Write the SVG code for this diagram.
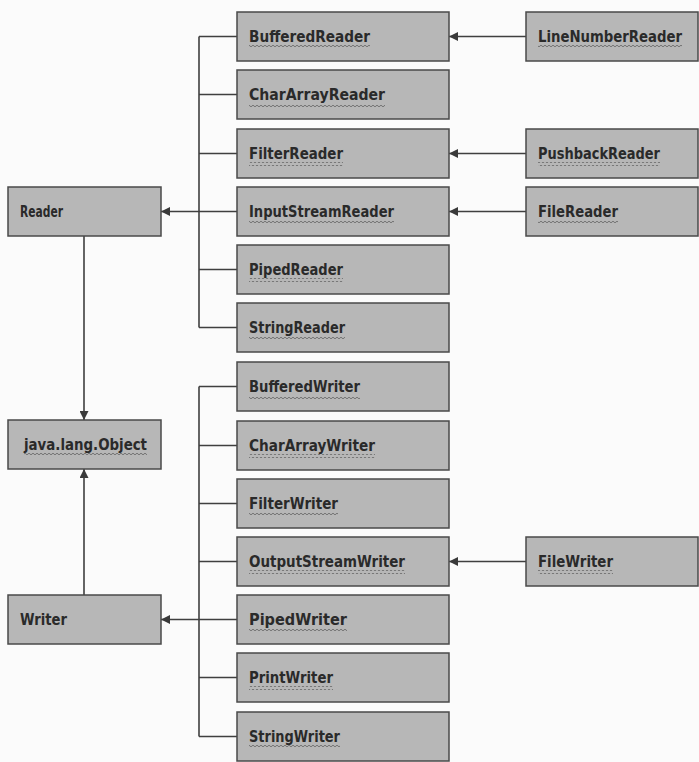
<svg xmlns="http://www.w3.org/2000/svg" width="699" height="762" viewBox="0 0 699 762">
<defs>
<style>
.box{fill:#b7b7b7;stroke:#4a4a4a;stroke-width:1.5}
.lbl{font-family:"DejaVu Sans Condensed","DejaVu Sans","Liberation Sans",sans-serif;font-size:15px;fill:#2a2a2a;font-weight:bold}
.wire{stroke:#3f3f3f;stroke-width:1.6;fill:none}
.sq{fill:url(#wave)}
</style>
<pattern id="wave" width="4" height="4" patternUnits="userSpaceOnUse">
<path d="M0,2 Q1,0.4 2,2 T4,2" fill="none" stroke="#6a6a6a" stroke-width="0.9"/>
</pattern>
<marker id="ah" viewBox="0 0 10 10" refX="10" refY="5" markerWidth="10" markerHeight="9" markerUnits="userSpaceOnUse" orient="auto">
<path d="M0,0 L10,5 L0,10 z" fill="#3a3a3a"/>
</marker>
</defs>
<rect width="699" height="762" fill="#fbfbfb"/>

<g id="connectors">
<path class="wire" d="M199,36.5 V327.5"/>
<path class="wire" d="M199,36.5 H237 M199,94.5 H237 M199,153.5 H237 M199,211.5 H237 M199,269.5 H237 M199,327.5 H237"/>
<path class="wire" d="M199,211.5 H161" marker-end="url(#ah)"/>
<path class="wire" d="M199,386.5 V736.5"/>
<path class="wire" d="M199,386.5 H237 M199,445.5 H237 M199,503.5 H237 M199,561.5 H237 M199,619.5 H237 M199,677.5 H237 M199,736.5 H237"/>
<path class="wire" d="M199,619.5 H161" marker-end="url(#ah)"/>
<path class="wire" d="M84,236 V420" marker-end="url(#ah)"/>
<path class="wire" d="M84,595 V469" marker-end="url(#ah)"/>
<path class="wire" d="M526,36.5 H449" marker-end="url(#ah)"/>
<path class="wire" d="M526,153.5 H449" marker-end="url(#ah)"/>
<path class="wire" d="M526,211.5 H449" marker-end="url(#ah)"/>
<path class="wire" d="M526,561.5 H449" marker-end="url(#ah)"/>
</g>

<g id="Reader"><rect class="box" x="8" y="187" width="153" height="49"/><text class="lbl" x="20" y="217" textLength="43" lengthAdjust="spacingAndGlyphs">Reader</text></g>
<g id="Object"><rect class="box" x="8" y="420" width="153" height="49"/><text class="lbl" x="24" y="450" textLength="123" lengthAdjust="spacingAndGlyphs">java.lang.Object</text><rect class="sq" x="24" y="453" width="123" height="4"/></g>
<g id="Writer"><rect class="box" x="8" y="595" width="153" height="49"/><text class="lbl" x="20" y="625" textLength="47" lengthAdjust="spacingAndGlyphs">Writer</text></g>

<g id="BufferedReader"><rect class="box" x="237" y="12" width="212" height="49"/><text class="lbl" x="249" y="42" textLength="121" lengthAdjust="spacingAndGlyphs">BufferedReader</text><rect class="sq" x="249" y="45" width="121" height="4"/></g>
<g id="CharArrayReader"><rect class="box" x="237" y="70" width="212" height="49"/><text class="lbl" x="249" y="100" textLength="136" lengthAdjust="spacingAndGlyphs">CharArrayReader</text><rect class="sq" x="249" y="103" width="136" height="4"/></g>
<g id="FilterReader"><rect class="box" x="237" y="129" width="212" height="49"/><text class="lbl" x="249" y="159" textLength="94" lengthAdjust="spacingAndGlyphs">FilterReader</text><rect class="sq" x="249" y="162" width="94" height="4"/></g>
<g id="InputStreamReader"><rect class="box" x="237" y="187" width="212" height="49"/><text class="lbl" x="249" y="217" textLength="145" lengthAdjust="spacingAndGlyphs">InputStreamReader</text><rect class="sq" x="249" y="220" width="145" height="4"/></g>
<g id="PipedReader"><rect class="box" x="237" y="245" width="212" height="49"/><text class="lbl" x="249" y="275" textLength="94" lengthAdjust="spacingAndGlyphs">PipedReader</text><rect class="sq" x="249" y="278" width="94" height="4"/></g>
<g id="StringReader"><rect class="box" x="237" y="303" width="212" height="49"/><text class="lbl" x="249" y="333" textLength="96" lengthAdjust="spacingAndGlyphs">StringReader</text><rect class="sq" x="249" y="336" width="96" height="4"/></g>
<g id="BufferedWriter"><rect class="box" x="237" y="362" width="212" height="49"/><text class="lbl" x="249" y="392" textLength="111" lengthAdjust="spacingAndGlyphs">BufferedWriter</text><rect class="sq" x="249" y="395" width="111" height="4"/></g>
<g id="CharArrayWriter"><rect class="box" x="237" y="421" width="212" height="49"/><text class="lbl" x="249" y="451" textLength="126" lengthAdjust="spacingAndGlyphs">CharArrayWriter</text><rect class="sq" x="249" y="454" width="126" height="4"/></g>
<g id="FilterWriter"><rect class="box" x="237" y="479" width="212" height="49"/><text class="lbl" x="249" y="509" textLength="89" lengthAdjust="spacingAndGlyphs">FilterWriter</text><rect class="sq" x="249" y="512" width="89" height="4"/></g>
<g id="OutputStreamWriter"><rect class="box" x="237" y="537" width="212" height="49"/><text class="lbl" x="249" y="567" textLength="156" lengthAdjust="spacingAndGlyphs">OutputStreamWriter</text><rect class="sq" x="249" y="570" width="156" height="4"/></g>
<g id="PipedWriter"><rect class="box" x="237" y="595" width="212" height="49"/><text class="lbl" x="249" y="625" textLength="98" lengthAdjust="spacingAndGlyphs">PipedWriter</text><rect class="sq" x="249" y="628" width="98" height="4"/></g>
<g id="PrintWriter"><rect class="box" x="237" y="653" width="212" height="49"/><text class="lbl" x="249" y="683" textLength="84" lengthAdjust="spacingAndGlyphs">PrintWriter</text><rect class="sq" x="249" y="686" width="84" height="4"/></g>
<g id="StringWriter"><rect class="box" x="237" y="712" width="212" height="49"/><text class="lbl" x="249" y="742" textLength="91" lengthAdjust="spacingAndGlyphs">StringWriter</text><rect class="sq" x="249" y="745" width="91" height="4"/></g>

<g id="LineNumberReader"><rect class="box" x="526" y="12" width="172" height="49"/><text class="lbl" x="538" y="42" textLength="144" lengthAdjust="spacingAndGlyphs">LineNumberReader</text><rect class="sq" x="538" y="45" width="144" height="4"/></g>
<g id="PushbackReader"><rect class="box" x="526" y="129" width="172" height="49"/><text class="lbl" x="538" y="159" textLength="122" lengthAdjust="spacingAndGlyphs">PushbackReader</text><rect class="sq" x="538" y="162" width="122" height="4"/></g>
<g id="FileReader"><rect class="box" x="526" y="187" width="172" height="49"/><text class="lbl" x="538" y="217" textLength="80" lengthAdjust="spacingAndGlyphs">FileReader</text><rect class="sq" x="538" y="220" width="80" height="4"/></g>
<g id="FileWriter"><rect class="box" x="526" y="537" width="172" height="49"/><text class="lbl" x="538" y="567" textLength="75" lengthAdjust="spacingAndGlyphs">FileWriter</text><rect class="sq" x="538" y="570" width="75" height="4"/></g>
</svg>
